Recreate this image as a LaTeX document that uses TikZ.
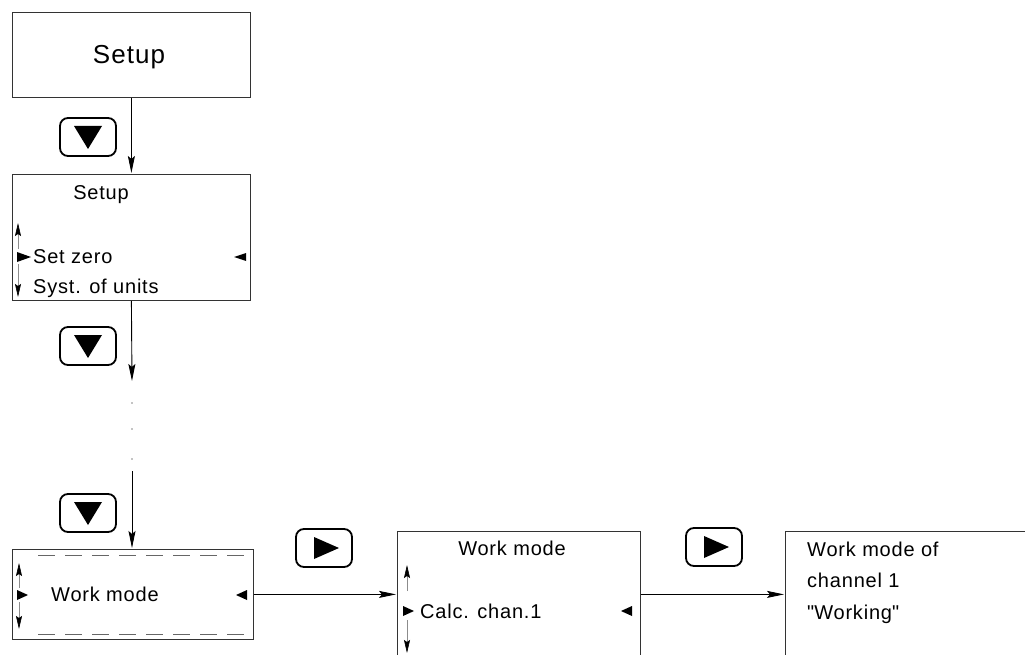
\documentclass[tikz,border=0pt]{standalone}
\usepackage{fontspec}
\setmainfont{Liberation Sans}[LetterSpace=4]
\usetikzlibrary{arrows.meta,calc}
\begin{document}
\begin{tikzpicture}[x=1pt,y=-1pt,
  box/.style={draw=black!80, line width=0.8pt, rectangle, inner sep=0pt, anchor=north west},
  btn/.style={draw=black, line width=1.8pt, rounded corners=8pt, minimum width=56pt, minimum height=38pt, inner sep=0pt},
  conn/.style={line width=0.9pt, -{Stealth[length=17pt,width=7pt,inset=3pt]}, shorten >=1pt},
  scroll/.style={draw=black!45, line width=0.6pt, -{Stealth[length=13pt,width=6pt,inset=2pt,black]}},
  lbl/.style={inner sep=0pt, anchor=base west, font=\fontsize{20}{22}\selectfont},
  clbl/.style={inner sep=0pt, anchor=base, font=\fontsize{20}{22}\selectfont},
  dashline/.style={draw=black!60, line width=0.8pt, dash pattern=on 17pt off 10pt},
  tri/.style={fill=black}]
\useasboundingbox (0,0) rectangle (1025,655);
\clip (0,0) rectangle (1025,655);
\fill[white] (0,0) rectangle (1025,655);

% boxes
\node[box, minimum width=238pt, minimum height=85pt] (b1) at (12,12) {};
\node[box, minimum width=238pt, minimum height=126pt] (b2) at (12,174) {};
\node[box, minimum width=241pt, minimum height=90pt] (b3) at (12,549) {};
\node[box, minimum width=243pt, minimum height=140pt] (b4) at (397,531) {};
\node[box, minimum width=260pt, minimum height=140pt] (b5) at (785,531) {};

% box 1
\node[inner sep=0pt, anchor=base, font=\fontsize{26}{30}\selectfont] (t1) at (129,64) {Setup};

% box 2
\node[clbl] (t2) at (101,200) {Setup};
\node[lbl] (t3) at (33,263) {Set zero};
\node[lbl] (t4) at (33,293) {Syst. of units};
\draw[scroll] (18,249) -- (18,223);
\draw[scroll] (18,264) -- (18,297);
\fill[tri] (17,252) -- (17,262) -- (31,257) -- cycle;
\fill[tri] (246,253) -- (246,261) -- (234,257) -- cycle;

% box 3
\draw[dashline] (38,555) -- (245,555);
\draw[dashline] (38,634) -- (245,634);
\node[lbl] (t5) at (51,601) {Work mode};
\draw[scroll] (19,588) -- (19,563);
\draw[scroll] (19,602) -- (19,629);
\fill[tri] (17,590) -- (17,600) -- (28,595) -- cycle;
\fill[tri] (247,590) -- (247,600) -- (236,595) -- cycle;

% box 4
\node[clbl] (t6) at (512,555) {Work mode};
\node[lbl] (t7) at (420,618) {Calc. chan.1};
\draw[scroll] (407,591) -- (407,565);
\draw[scroll] (407,620) -- (407,653);
\fill[tri] (403,606) -- (403,616) -- (414,611) -- cycle;
\fill[tri] (632,606) -- (632,616) -- (621,611) -- cycle;

% box 5
\node[lbl] (t8) at (807,556) {Work mode of};
\node[lbl] (t9) at (807,587) {channel 1};
\node[lbl] (t10) at (807,619) {\textquotedbl Working\textquotedbl};

% buttons
\node[btn] (k1) at (88,137) {};
\node[btn] (k2) at (88,346) {};
\node[btn] (k3) at (88,513) {};
\node[btn] (k4) at (324,548) {};
\node[btn] (k5) at (714,547) {};
\fill[tri, shift={(k1.center)}] (-14,-11) -- (14,-11) -- (0,12) -- cycle;
\fill[tri, shift={(k2.center)}] (-14,-11) -- (14,-11) -- (0,12) -- cycle;
\fill[tri, shift={(k3.center)}] (-14,-11) -- (14,-11) -- (0,12) -- cycle;
\fill[tri, shift={(k4.center)}] (-10,-11) -- (-10,11) -- (15,0) -- cycle;
\fill[tri, shift={(k5.center)}] (-10,-11) -- (-10,11) -- (15,0) -- cycle;

% connectors
\coordinate (d1) at (132,382);
\coordinate (d2) at (132,471);
\draw[conn] (b1.south) -- (b2.north);
\draw[conn] (b2.south) -- (d1);
\fill (132,403) circle (0.7pt);
\fill (132,429) circle (0.7pt);
\fill (132,459) circle (0.7pt);
\draw[conn] (d2) -- (d2 |- b3.north);
\draw[conn] (b3.east) -- (b3.east -| b4.west);
\draw[conn] (b3.east -| b4.east) -- (b3.east -| b5.west);
\end{tikzpicture}
\end{document}
